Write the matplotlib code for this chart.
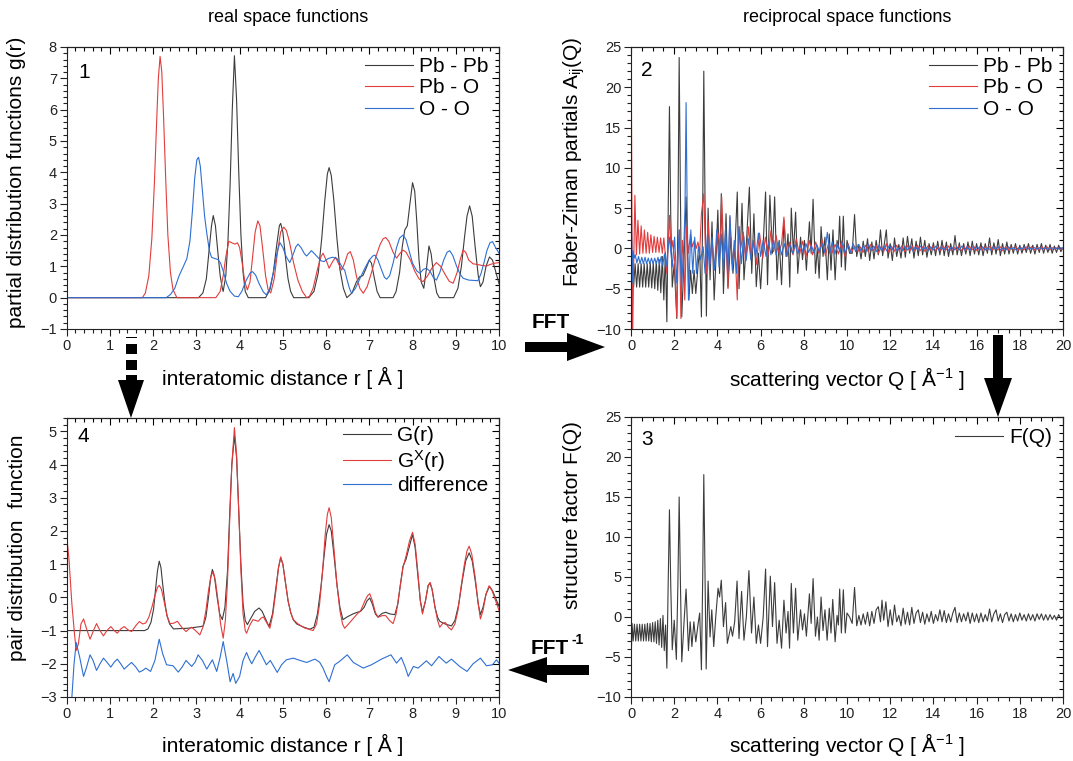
import matplotlib
matplotlib.use("Agg")
import matplotlib.pyplot as plt
from matplotlib.patches import Polygon
from matplotlib.ticker import MultipleLocator

plt.rcParams['font.family'] = ['Liberation Sans', 'DejaVu Sans']
plt.rcParams['mathtext.fontset'] = 'custom'
plt.rcParams['mathtext.rm'] = 'Liberation Sans'
plt.rcParams['mathtext.it'] = 'Liberation Sans:italic'
plt.rcParams['mathtext.bf'] = 'Liberation Sans:bold'

W, H = 1073, 761

# ---------------- panel 1 : partial g(r) ----------------
r_pbpb = [0, 3.05, 3.15, 3.23, 3.3, 3.35, 3.39, 3.44, 3.5, 3.55, 3.6, 3.62, 3.68, 3.73, 3.78, 3.83, 3.88,
          3.93, 3.98, 4.03, 4.08, 4.13, 4.2, 4.6, 4.7, 4.78, 4.86, 4.92, 4.95, 5.0, 5.06, 5.12, 5.18, 5.25,
          5.6, 5.72, 5.82, 5.9, 5.97, 6.03, 6.07, 6.12, 6.18, 6.25, 6.32, 6.4, 6.48, 6.6, 6.7, 6.78, 6.85,
          6.93, 7.0, 7.05, 7.12, 7.18, 7.25, 7.55, 7.62, 7.7, 7.76, 7.82, 7.88, 7.94, 8.0, 8.05, 8.1, 8.15,
          8.2, 8.26, 8.32, 8.38, 8.43, 8.5, 8.56, 8.62, 8.95, 9.05, 9.13, 9.2, 9.26, 9.32, 9.38, 9.45, 9.52,
          9.57, 9.63, 9.7, 9.78, 9.85, 9.93, 10]
g_pbpb = [0, 0, 0.15, 0.6, 1.6, 2.3, 2.62, 2.3, 1.4, 0.7, 0.3, 0.2, 0.7, 1.8, 3.6, 6.0, 7.72,
          6.3, 4.0, 2.0, 0.8, 0.2, 0, 0, 0.25, 0.8, 1.7, 2.3, 2.37, 2.1, 1.3, 0.6, 0.2, 0,
          0, 0.2, 0.8, 1.9, 3.1, 3.95, 4.15, 3.9, 3.1, 1.9, 0.9, 0.3, 0, 0.15, 0.5, 0.67, 0.7,
          0.95, 1.2, 1.1, 0.6, 0.2, 0, 0, 0.2, 0.8, 1.6, 2.16, 2.3, 3.0, 3.67, 3.4, 2.4, 1.2,
          0.5, 0.3, 0.9, 1.65, 1.4, 0.6, 0.15, 0, 0, 0.3, 1.0, 1.9, 2.6, 2.93, 2.6, 1.6, 0.7,
          0.35, 0.5, 1.0, 1.3, 1.2, 0.8, 0.45]

r_pbo = [0, 1.75, 1.82, 1.9, 1.97, 2.03, 2.08, 2.12, 2.16, 2.2, 2.24, 2.29, 2.34, 2.4, 2.46, 2.55, 3.45,
         3.55, 3.62, 3.68, 3.75, 3.82, 3.89, 3.95, 4.0, 4.06, 4.12, 4.18, 4.24, 4.3, 4.36, 4.42, 4.47, 4.53,
         4.6, 4.66, 4.72, 4.8, 4.88, 4.95, 5.02, 5.08, 5.15, 5.25, 5.35, 5.45, 5.55, 5.62, 5.7, 5.8, 5.88,
         5.93, 6.0, 6.07, 6.15, 6.22, 6.3, 6.36, 6.43, 6.5, 6.56, 6.63, 6.7, 6.78, 6.86, 6.95, 7.05, 7.15,
         7.25, 7.32, 7.38, 7.45, 7.55, 7.63, 7.7, 7.78, 7.85, 7.95, 8.05, 8.15, 8.24, 8.35, 8.45, 8.55,
         8.65, 8.75, 8.85, 8.94, 9.03, 9.1, 9.17, 9.23, 9.3, 9.4, 9.5, 9.6, 9.71, 9.8, 9.9, 10]
g_pbo = [0, 0, 0.15, 0.7, 1.9, 3.7, 5.6, 7.0, 7.7, 7.2, 5.8, 3.8, 2.0, 0.8, 0.25, 0, 0,
         0.2, 0.7, 1.3, 1.8, 1.75, 1.71, 1.75, 1.6, 1.1, 0.5, 0.25, 0.5, 1.3, 2.1, 2.45, 2.3, 1.6,
         0.7, 0.25, 0.15, 0.6, 1.5, 2.1, 2.25, 2.15, 1.8, 1.1, 0.55, 0.2, 0.0, 0.05, 0.3, 0.9, 1.3,
         1.42, 1.2, 0.94, 1.15, 1.29, 1.05, 0.88, 1.1, 1.4, 1.47, 1.2, 0.7, 0.3, 0.14, 0.35, 0.8, 1.3,
         1.7, 1.88, 1.92, 1.8, 1.45, 1.26, 1.4, 1.52, 1.45, 1.2, 0.85, 0.6, 0.51, 0.7, 0.95, 1.12,
         1.0, 0.75, 0.52, 0.46, 0.8, 1.2, 1.52, 1.45, 1.2, 1.08, 1.06, 1.03, 1.01, 1.06, 1.1, 1.12]

r_oo = [0, 2.3, 2.4, 2.5, 2.6, 2.7, 2.78, 2.85, 2.91, 2.96, 3.01, 3.05, 3.09, 3.14, 3.19, 3.24, 3.3, 3.35,
        3.42, 3.5, 3.56, 3.62, 3.7, 3.78, 3.88, 3.97, 4.05, 4.15, 4.25, 4.3, 4.37, 4.45, 4.55, 4.62, 4.7,
        4.78, 4.86, 4.93, 5.0, 5.08, 5.16, 5.23, 5.3, 5.35, 5.42, 5.5, 5.55, 5.61, 5.66, 5.72, 5.8, 5.88,
        5.95, 6.05, 6.15, 6.25, 6.32, 6.38, 6.43, 6.48, 6.54, 6.59, 6.68, 6.78, 6.9, 7.0, 7.08, 7.13, 7.2,
        7.28, 7.35, 7.4, 7.47, 7.55, 7.63, 7.7, 7.78, 7.85, 7.92, 8.0, 8.1, 8.17, 8.25, 8.32, 8.4, 8.48,
        8.55, 8.63, 8.72, 8.8, 8.86, 8.93, 9.02, 9.1, 9.17, 9.3, 9.42, 9.51, 9.58, 9.65, 9.72, 9.79, 9.85,
        9.92, 10]
g_oo = [0, 0, 0.1, 0.3, 0.7, 1.0, 1.25, 1.8, 2.8, 3.8, 4.4, 4.48, 4.2, 3.4, 2.6, 2.06, 1.5, 1.29,
        1.25, 1.22, 1.1, 0.85, 0.45, 0.2, 0.05, 0.03, 0.2, 0.55, 0.8, 0.83, 0.72, 0.45, 0.18, 0.09, 0.3,
        0.8, 1.4, 1.76, 1.6, 1.3, 1.12, 1.35, 1.62, 1.71, 1.6, 1.4, 1.33, 1.42, 1.5, 1.42, 1.3, 1.18,
        1.15, 1.25, 1.29, 1.25, 1.1, 0.95, 0.88, 0.6, 0.3, 0.14, 0.3, 0.6, 0.95, 1.2, 1.33, 1.36, 1.2,
        0.9, 0.65, 0.59, 0.7, 1.1, 1.6, 1.9, 2.0, 1.85, 1.5, 1.1, 0.85, 0.78, 0.9, 0.94, 0.85, 0.65,
        0.56, 0.8, 1.2, 1.45, 1.5, 1.35, 1.0, 0.75, 0.62, 0.56, 0.55, 0.54, 0.75, 1.1, 1.5, 1.75, 1.79,
        1.6, 1.42]

# ---------------- panel 2 : Faber-Ziman partials ----------------
q_pbpb = [0.03, 0.05, 0.12, 0.19, 0.26, 0.33, 0.40, 0.47, 0.54, 0.61, 0.68, 0.75, 0.82, 0.89, 0.96, 1.03,
          1.10, 1.17, 1.24, 1.31, 1.38, 1.45, 1.52, 1.59, 1.66, 1.72, 1.78, 1.84, 1.91, 2.0, 2.12, 2.18,
          2.23, 2.29, 2.35, 2.46, 2.55, 2.68, 2.76, 2.84, 2.92, 3.0, 3.1, 3.18, 3.26, 3.32, 3.37, 3.43,
          3.49, 3.57, 3.66, 3.75, 3.85, 3.94, 4.02, 4.1, 4.18, 4.28, 4.4, 4.49, 4.62, 4.72, 4.82, 4.92,
          5.0, 5.14, 5.23, 5.35, 5.48, 5.59, 5.69, 5.8, 5.9, 6.0, 6.12, 6.23, 6.32, 6.43, 6.55, 6.65,
          6.76, 6.86, 6.97, 7.08, 7.18, 7.27, 7.35, 7.42, 7.52, 7.62, 7.72, 7.85, 7.94, 8.03, 8.12, 8.26,
          8.34, 8.43, 8.54, 8.63, 8.71, 8.8, 8.89, 8.98, 9.09, 9.18, 9.26, 9.35, 9.45, 9.54, 9.6, 9.66,
          9.74, 9.83, 9.92, 10.0, 10.12, 10.24, 10.35, 10.45,
          10.55, 10.65, 10.75, 10.85, 10.95, 11.05, 11.15, 11.25, 11.35, 11.45, 11.55, 11.65, 11.75, 11.82,
          11.9, 12.0, 12.1, 12.2, 12.3, 12.4, 12.5, 12.6, 12.7, 12.8, 12.9, 13.0, 13.1, 13.2, 13.3, 13.4,
          13.5, 13.6, 13.7, 13.8, 13.9, 14.0, 14.1, 14.2, 14.3, 14.4, 14.5, 14.6, 14.7, 14.8, 14.9, 15.0,
          15.1, 15.2, 15.3, 15.4, 15.5, 15.6, 15.7, 15.8, 15.9, 16.0, 16.1, 16.2, 16.3, 16.4, 16.5, 16.6,
          16.7, 16.8, 16.9, 17.0, 17.1, 17.2, 17.3, 17.4, 17.5, 17.6, 17.7, 17.8, 17.9, 18.0, 18.1, 18.2,
          18.3, 18.4, 18.5, 18.6, 18.7, 18.8, 18.9, 19.0, 19.1, 19.2, 19.3, 19.4, 19.5, 19.6, 19.7, 19.8,
          19.9, 20.0]
a_pbpb = [-4.5, -1.5, -4.8, -1.9, -4.8, -1.9, -4.8, -1.9, -4.8, -1.9, -4.8, -1.9, -4.8, -1.8, -4.9, -1.8,
          -5.0, -1.6, -5.2, -1.4, -5.5, -1.0, -6.4, -0.5, -9.1, 4.0, 17.6, 4.0, -4.8, -1.9, -8.7, 6.0,
          23.7, 6.0, -8.5, -1.0, 6.4, -6.4, -2.7, -5.6, -2.7, -5.6, -2.3, 0.0, -8.5, 5.0, 22.0, 5.0,
          -8.4, 5.0, -3.9, 3.3, -6.4, -1.0, 4.75, -3.1, 6.8, -5.6, 4.3, -4.8, 1.4, -3.1, 0.5, 7.0,
          -5.0, 5.6, -3.9, 1.0, 7.6, -3.1, 4.3, -4.75, -0.6, -5.0, 0.5, 7.0, -4.5, 6.6, -0.6, 6.4,
          -3.9, 1.0, -4.5, 3.5, -1.0, 1.8, -4.8, 5.0, -0.6, 4.5, -3.1, 1.4, -1.4, 1.0, -2.7, 3.3,
          -0.6, 6.1, -3.1, 0.2, -3.7, 2.7, -1.0, 1.4, -3.9, 1.8, -2.7, 2.3, -3.9, 1.0, 0.0, 4.0,
          -2.3, 4.0, -2.7, 1.0, -0.6, -0.6, 4.2, -1.0,
          0.5, -1.3, 0.9, -1.0, 1.2, -1.5, 0.8, -1.3, 1.0, -0.8, 2.3, -0.9, 1.0, 2.3,
          -1.2, 0.6, -1.5, 1.3, -1.0, 0.5, -1.2, 1.3, -1.1, 1.5, -0.6, 1.2, -1.2, 0.9, -0.9, 1.4,
          -0.8, 1.0, -1.1, 0.6, -0.8, 0.7, -0.9, 0.9, -0.8, 1.0, -0.9, 0.8, -1.0, 0.6, -0.8, 1.6,
          -0.8, 0.7, -0.9, 0.6, -0.7, 0.8, -0.9, 0.9, -0.7, 0.6, -0.8, 0.7, -0.9, 0.6, -0.6, 1.3,
          -0.8, 0.7, -0.7, 1.1, -0.9, 0.6, -0.7, 0.8, -0.7, 0.5, -0.6, 0.6, -0.7, 0.4, -0.6, 0.5,
          -0.5, 0.6, -0.6, 0.4, -0.7, 0.5, -0.5, 0.6, -0.6, 0.4, -0.5, 0.5, -0.6, 0.3, -0.5, 0.4,
          -0.4, 0.1]

q_pbo = [0.0, 0.07, 0.13, 0.18, 0.25, 0.32, 0.40, 0.47, 0.55, 0.62, 0.70, 0.77, 0.85, 0.92, 1.00, 1.07,
         1.15, 1.22, 1.30, 1.37, 1.45, 1.52, 1.59, 1.66, 1.72, 1.78, 1.86, 1.94, 2.02, 2.12, 2.18, 2.24,
         2.31, 2.38, 2.44, 2.49, 2.57, 2.66, 2.75, 2.84, 2.93, 3.02, 3.1, 3.18, 3.26, 3.37, 3.48, 3.57,
         3.66, 3.75, 3.85, 3.95, 4.05, 4.12, 4.2, 4.3, 4.4, 4.49, 4.58, 4.68, 4.8, 4.92, 5.0, 5.08,
         5.2, 5.3, 5.45, 5.55, 5.7, 5.8, 5.95, 6.1, 6.22, 6.35, 6.48, 6.6, 6.72, 6.85, 6.97, 7.08,
         7.2, 7.35, 7.5, 7.65, 7.8, 7.95, 8.1, 8.25, 8.4, 8.55, 8.7, 8.85, 9.0, 9.15, 9.3, 9.45,
         9.6, 9.75, 9.9, 10.05, 10.2, 10.35, 10.5, 10.62, 10.74, 10.86, 10.98, 11.1, 11.22, 11.34, 11.46,
         11.58, 11.7, 11.82, 11.94, 12.06, 12.18, 12.3, 12.42, 12.54, 12.66, 12.78, 12.9, 13.02, 13.14,
         13.26, 13.38, 13.5, 13.62, 13.74, 13.86, 13.98, 14.1, 14.22, 14.34, 14.46, 14.58, 14.7, 14.82,
         14.94, 15.06, 15.18, 15.3, 15.42, 15.54, 15.66, 15.78, 15.9, 16.02, 16.14, 16.26, 16.38, 16.5,
         16.62, 16.74, 16.86, 16.98, 17.1, 17.22, 17.34, 17.46, 17.58, 17.7, 17.82, 17.94, 18.06, 18.18,
         18.3, 18.42, 18.54, 18.66, 18.78, 18.9, 19.02, 19.14, 19.26, 19.38, 19.5, 19.62, 19.74, 19.86, 20.0]
a_pbo = [30.0, -12.0, -1.0, 6.6, -0.8, 3.5, -0.7, 2.8, -0.6, 2.3, -0.6, 2.0, -0.6, 1.7, -0.5, 1.5,
         -0.5, 1.4, -0.5, 1.3, -0.6, 1.3, -0.8, -3.1, 0.5, 4.1, -0.5, 1.0, -1.5, -8.5, -1.0, 2.3,
         -8.7, 1.0, -1.0, -6.4, 2.7, -0.6, 1.8, 0.2, 1.0, 0.0, 0.8, -0.5, 4.3, 6.8, -3.1, 3.5,
         -1.9, 1.0, -2.7, 0.2, 1.9, -0.5, 6.4, -1.0, 0.6, -5.0, 3.9, -1.9, 0.6, -6.4, 2.7, 0.0,
         2.0, -1.5, 2.7, -1.0, 0.8, -2.0, 1.9, -1.2, 1.4, -0.8, 2.2, -0.4, 1.6, -0.6, 0.6, 3.9,
         -1.0, 0.8, -0.8, 1.2, -0.8, 0.9, -1.1, 1.0, -0.8, 0.8, -0.6, 1.1, -0.9, 0.7, -0.6, 0.5,
         -0.7, 0.9, -1.0, 0.6, -0.6, 0.3, -0.4, 0.2, -0.5, 0.4, -0.4, 0.5, -0.3, 0.4, -0.6,
         0.3, -0.4, 0.6, -0.5, 0.3, -0.4, 0.4, -0.3, 0.3, -0.4, 0.4, -0.3, 0.3, -0.3,
         0.4, -0.3, 0.2, -0.4, 0.3, -0.2, 0.3, -0.3, 0.2, -0.3, 0.3, -0.2, 0.3, -0.3,
         0.2, -0.2, 0.3, -0.3, 0.2, -0.2, 0.3, -0.2, 0.2, -0.3, 0.2, -0.2, 0.2, -0.2,
         0.3, -0.2, 0.2, -0.2, 0.2, -0.3, 0.2, -0.2, 0.2, -0.2, 0.2, -0.2, 0.1, -0.2,
         0.2, -0.1, 0.2, -0.2, 0.1, -0.2, 0.2, -0.1, 0.2, -0.2, 0.1, -0.1, 0.1, -0.1, 0.0]

q_oo = [0.0, 0.03, 0.06, 0.1, 0.15, 0.2, 0.27, 0.35, 0.42, 0.5, 0.57, 0.65, 0.72, 0.8, 0.87, 0.95, 1.02,
        1.1, 1.17, 1.25, 1.32, 1.4, 1.47, 1.55, 1.62, 1.7, 1.78, 1.91, 2.02, 2.12, 2.23, 2.34, 2.45, 2.5,
        2.55, 2.6, 2.66, 2.77, 2.86, 2.95, 3.03, 3.12, 3.22, 3.34, 3.43, 3.54, 3.63, 3.75, 3.86, 3.97,
        4.08, 4.18, 4.28, 4.38, 4.48, 4.58, 4.69, 4.78, 4.89, 5.0, 5.11, 5.22, 5.33, 5.44, 5.55, 5.66,
        5.77, 5.9, 6.0, 6.12, 6.25, 6.37, 6.48, 6.6, 6.72, 6.85, 6.97, 7.1, 7.22, 7.35, 7.48, 7.6, 7.72,
        7.85, 7.97, 8.1, 8.22, 8.35, 8.47, 8.6, 8.72, 8.85, 8.97, 9.09, 9.2, 9.32, 9.44, 9.56, 9.68,
        9.8, 9.92, 10.04, 10.16, 10.28, 10.4, 10.52, 10.64, 10.76, 10.88, 11.0, 11.12, 11.24, 11.36,
        11.48, 11.6, 11.72, 11.84, 11.96, 12.08, 12.2, 12.32, 12.44, 12.56, 12.68, 12.8, 12.92, 13.04,
        13.16, 13.28, 13.4, 13.52, 13.64, 13.76, 13.88, 14.0, 14.12, 14.24, 14.36, 14.48, 14.6, 14.72,
        14.84, 14.96, 15.08, 15.2, 15.32, 15.44, 15.56, 15.68, 15.8, 15.92, 16.04, 16.16, 16.28, 16.4,
        16.52, 16.64, 16.76, 16.88, 17.0, 17.12, 17.24, 17.36, 17.48, 17.6, 17.72, 17.84, 17.96, 18.08,
        18.2, 18.32, 18.44, 18.56, 18.68, 18.8, 18.92, 19.04, 19.16, 19.28, 19.4, 19.52, 19.64, 19.76,
        19.88, 20.0]
a_oo = [10.0, 2.0, -4.3, -0.3, -1.2, -0.8, -1.8, -1.0, -1.9, -1.1, -1.9, -1.1, -1.9, -1.2, -1.9, -1.2,
        -1.9, -1.2, -1.9, -1.1, -2.0, -1.0, -2.1, -0.7, -2.3, -0.5, 1.4, -2.3, 1.4, -4.3, 2.3, -4.75,
        0.5, 5.0, 18.1, 5.0, -6.4, 2.3, -3.1, 1.4, -3.1, 0.2, -1.4, 0.2, -3.1, 1.8, -2.7, 1.4,
        -2.7, 2.3, -2.3, 1.8, -2.7, 2.7, -3.1, 4.1, -2.7, 1.0, -3.1, 2.7, -1.9, 1.5, -1.5, 1.2,
        -1.4, 1.0, -1.2, 1.9, -1.0, 1.0, -1.0, 0.8, -0.8, 1.0, -0.8, 0.8, -0.8, 0.6, -1.0, 0.5,
        -0.6, 0.5, -0.7, 0.4, -0.5, 0.6, -0.5, 0.4, -0.6, 0.5, -0.4, 0.6, -0.5, 2.0, -0.6, 0.8,
        -0.7, 0.6, -0.5, 0.7, -0.6, 0.5, -0.5, 0.6, -0.4, 0.5, -0.3, 0.4, -0.4, 0.5, -0.3, 0.3,
        -0.4, 0.4, -0.3, 0.3, -0.3, 0.4, -0.2, 0.3, -0.3, 0.2, -0.3, 0.3, -0.2, 0.3, -0.3, 0.2,
        -0.2, 0.3, -0.2, 0.2, -0.3, 0.2, -0.2, 0.3, -0.2, 0.2, -0.2, 0.2, -0.3, 0.2, -0.2, 0.2,
        -0.2, 0.3, -0.2, 0.2, -0.2, 0.2, -0.1, 0.2, -0.2, 0.2, -0.2, 0.1, -0.2, 0.2, -0.1, 0.2,
        -0.2, 0.1, -0.2, 0.2, -0.1, 0.1, -0.2, 0.1, -0.1, 0.2, -0.1, 0.1, -0.1, 0.1, -0.1, 0.1,
        -0.1, 0.1, -0.1, 0.1, -0.1, 0.1, -0.1, 0.1, 0.0]

# ---------------- panel 3 : F(Q) ----------------
q_f = [0.0, 0.02, 0.05, 0.1, 0.16, 0.22, 0.28, 0.34, 0.40, 0.46, 0.52, 0.58, 0.64, 0.70, 0.76, 0.82,
       0.88, 0.94, 1.00, 1.06, 1.12, 1.18, 1.24, 1.30, 1.36, 1.42, 1.48, 1.54, 1.60, 1.66, 1.72, 1.78,
       1.84, 1.91, 2.0, 2.1, 2.17, 2.23, 2.29, 2.35, 2.46, 2.55, 2.66, 2.74, 2.82, 2.91, 3.0, 3.11,
       3.18, 3.26, 3.32, 3.37, 3.43, 3.48, 3.57, 3.66, 3.74, 3.83, 3.92, 4.03, 4.1, 4.18, 4.28, 4.38,
       4.46, 4.62, 4.7, 4.8, 4.91, 5.0, 5.12, 5.23, 5.34, 5.46, 5.58, 5.69, 5.8, 5.9, 6.0, 6.12,
       6.23, 6.32, 6.45, 6.55, 6.65, 6.76, 6.86, 6.97, 7.08, 7.18, 7.27, 7.34, 7.42, 7.52, 7.62, 7.72,
       7.85, 7.94, 8.03, 8.12, 8.26, 8.34, 8.43, 8.54, 8.63, 8.71, 8.8, 8.89, 8.98, 9.08, 9.18, 9.26,
       9.34, 9.45, 9.54, 9.6, 9.66, 9.74, 9.83, 9.92, 10.0, 10.12, 10.24, 10.35, 10.45,
       10.55, 10.65, 10.75, 10.85, 10.95, 11.05, 11.15, 11.25, 11.35, 11.45, 11.55, 11.62, 11.7, 11.8,
       11.9, 12.0, 12.1, 12.2, 12.3, 12.4, 12.5, 12.6, 12.7, 12.8, 12.9, 13.0, 13.1, 13.2, 13.3, 13.4,
       13.5, 13.6, 13.7, 13.8, 13.9, 14.0, 14.1, 14.2, 14.3, 14.4, 14.5, 14.6, 14.7, 14.8, 14.9, 15.0,
       15.1, 15.2, 15.3, 15.4, 15.5, 15.6, 15.7, 15.8, 15.9, 16.0, 16.1, 16.2, 16.3, 16.4, 16.5, 16.6,
       16.7, 16.8, 16.9, 17.0, 17.1, 17.2, 17.3, 17.4, 17.5, 17.6, 17.7, 17.8, 17.9, 18.0, 18.1, 18.2,
       18.3, 18.4, 18.5, 18.6, 18.7, 18.8, 18.9, 19.0, 19.1, 19.2, 19.3, 19.4, 19.5, 19.6, 19.7, 19.8,
       19.9, 20.0]
f_q = [5.0, -4.0, -0.8, -3.0, -0.9, -3.0, -0.9, -3.0, -0.9, -3.0, -0.9, -3.0, -0.9, -3.0, -0.8, -3.0,
       -0.8, -3.1, -0.7, -3.1, -0.6, -3.3, -0.4, -3.5, -0.2, -3.8, 0.2, -4.2, -1.0, -6.4, 4.0, 13.4,
       4.0, -4.1, -0.4, -5.3, 4.0, 15.0, 4.0, -5.6, -0.4, 3.5, -4.2, -0.6, -3.7, -0.6, -3.1, -0.8,
       0.5, -6.6, 5.0, 17.8, 5.0, -6.5, 4.5, -2.5, 0.9, -3.7, -0.1, 3.6, 2.5, 4.6, -1.2, 1.8,
       -3.3, -1.2, -2.4, -0.6, 4.5, -2.7, 3.2, -2.9, 0.0, 5.8, -2.0, 2.5, -3.3, -1.0, -3.3, 0.0,
       6.0, -3.7, 5.1, -1.2, 4.3, -3.3, -0.4, -3.9, 2.1, -2.0, 0.7, -3.9, 4.2, -2.0, 3.6, -2.9,
       0.9, -1.6, 0.4, -2.4, 2.9, -0.8, 4.8, -2.4, 0.0, -2.9, 2.5, -1.7, 0.9, -2.9, 1.1, -2.0,
       2.2, -3.1, 0.2, -1.0, 3.5, -2.0, 3.4, -2.0, 0.5, 0.0, -0.8, 3.7, -1.1,
       0.2, -1.0, 0.4, -0.9, 0.6, -1.1, 0.7, -0.8, 0.9, 1.3, -0.6, 2.1, -0.4, 1.9,
       -1.2, 0.9, -1.0, 1.5, -0.6, 0.2, -1.1, 1.1, -0.9, 0.6, -1.0, 1.2, -0.8, 0.5, 0.9, -0.7,
       0.6, -0.9, 0.4, -0.6, 0.7, -0.8, 0.3, -0.5, 0.9, -0.6, 0.8, -0.7, 0.4, -0.6, 0.5, 1.2,
       -0.7, 0.5, -0.6, 0.4, -0.5, 0.6, -0.8, 0.5, -0.6, 0.4, -0.7, 0.5, -0.6, 0.3, -0.5, 1.0,
       -0.6, 0.4, 0.9, -0.5, 0.4, -0.7, 0.3, 0.6, -0.5, 0.4, -0.6, 0.3, -0.5, 0.5, -0.4, 0.3,
       -0.5, 0.4, -0.4, 0.3, -0.5, 0.4, -0.3, 0.4, -0.4, 0.3, -0.4, 0.3, -0.3, 0.2, -0.4, 0.3,
       -0.2, 0.0]

# ---------------- panel 4 : G(r) ----------------
r_g = [0, 1.8, 1.88, 1.95, 2.01, 2.06, 2.1, 2.14, 2.18, 2.22, 2.27, 2.32, 2.38, 2.47, 2.8, 3.1, 3.16,
       3.22, 3.28, 3.33, 3.37, 3.42, 3.48, 3.54, 3.6, 3.66, 3.72, 3.77, 3.82, 3.88, 3.93, 3.98, 4.03,
       4.08, 4.13, 4.18, 4.25, 4.35, 4.45, 4.52, 4.6, 4.68, 4.76, 4.83, 4.9, 4.95, 5.0, 5.06, 5.12, 5.18,
       5.24, 5.32, 5.45, 5.62, 5.72, 5.8, 5.88, 5.95, 6.01, 6.07, 6.12, 6.18, 6.25, 6.32, 6.39, 6.5,
       6.62, 6.72, 6.8, 6.88, 6.95, 7.01, 7.07, 7.14, 7.2, 7.3, 7.38, 7.48, 7.59, 7.66, 7.72, 7.78, 7.85,
       7.92, 8.0, 8.06, 8.12, 8.18, 8.23, 8.3, 8.36, 8.4, 8.45, 8.52, 8.58, 8.63, 8.75, 8.9, 8.98, 9.07,
       9.15, 9.23, 9.31, 9.38, 9.45, 9.52, 9.57, 9.63, 9.7, 9.78, 9.85, 9.93, 10]
g_r = [-1, -1, -0.95, -0.75, -0.35, 0.3, 0.8, 1.09, 0.9, 0.4, -0.15, -0.55, -0.8, -0.95, -0.93, -0.88, -0.86,
       -0.6, 0.0, 0.6, 0.84, 0.6, 0.0, -0.5, -0.67, -0.3, 0.8, 2.5, 4.0, 4.86, 4.2, 2.6, 1.0,
       -0.2, -0.7, -0.82, -0.65, -0.42, -0.32, -0.42, -0.65, -0.88, -0.5, 0.2, 0.9, 1.19, 1.0, 0.45, -0.1, -0.45,
       -0.67, -0.8, -0.88, -0.96, -0.9, -0.5, 0.3, 1.2, 1.9, 2.19, 2.0, 1.3, 0.4, -0.3, -0.67, -0.58,
       -0.5, -0.45, -0.42, -0.3, -0.1, -0.02, -0.2, -0.5, -0.59, -0.48, -0.45, -0.5, -0.52, -0.2, 0.4, 0.94, 1.15,
       1.5, 1.89, 1.5, 0.7, -0.1, -0.45, -0.1, 0.35, 0.43, 0.25, -0.3, -0.6, -0.72, -0.8, -0.86, -0.7, -0.2,
       0.5, 1.1, 1.34, 1.1, 0.5, -0.2, -0.52, -0.3, 0.1, 0.33, 0.2, -0.05, -0.27]

r_gx = [0, 0.05, 0.12, 0.18, 0.22, 0.27, 0.33, 0.39, 0.46, 0.54, 0.62, 0.69, 0.77, 0.85, 0.93, 1.02, 1.1,
        1.17, 1.25, 1.33, 1.42, 1.5, 1.6, 1.68, 1.76, 1.83, 1.9, 1.97, 2.04, 2.1, 2.14, 2.19, 2.25, 2.32,
        2.39, 2.47, 2.56, 2.66, 2.76, 2.83, 2.89, 2.98, 3.08, 3.15, 3.22, 3.28, 3.34, 3.39, 3.44, 3.5,
        3.56, 3.62, 3.67, 3.72, 3.77, 3.82, 3.88, 3.93, 3.98, 4.03, 4.08, 4.13, 4.16, 4.23, 4.31, 4.38,
        4.43, 4.5, 4.55, 4.62, 4.7, 4.77, 4.84, 4.9, 4.95, 5.0, 5.06, 5.12, 5.18, 5.24, 5.35, 5.5, 5.7,
        5.78, 5.85, 5.92, 5.98, 6.03, 6.07, 6.12, 6.18, 6.25, 6.32, 6.38, 6.43, 6.52, 6.62, 6.72, 6.8,
        6.9, 6.96, 7.01, 7.07, 7.14, 7.2, 7.3, 7.38, 7.47, 7.55, 7.62, 7.7, 7.78, 7.86, 7.93, 8.0, 8.06,
        8.12, 8.18, 8.23, 8.3, 8.36, 8.41, 8.46, 8.52, 8.58, 8.63, 8.7, 8.76, 8.83, 8.9, 8.98, 9.05, 9.12,
        9.2, 9.26, 9.31, 9.37, 9.45, 9.52, 9.57, 9.63, 9.7, 9.77, 9.84, 9.92, 10]
g_x = [1.84, 1.2, -0.2, -1.1, -1.6, -1.4, -0.8, -0.65, -0.95, -1.26, -1.0, -0.79, -1.0, -1.16, -1.0, -0.88, -1.0,
       -1.08, -0.95, -0.88, -0.98, -1.03, -0.85, -0.73, -0.8, -0.77, -0.6, -0.3, 0.05, 0.3, 0.36, 0.25, -0.1, -0.55,
       -0.79, -0.78, -0.72, -0.9, -1.03, -0.95, -0.9, -1.0, -1.13, -0.9, -0.4, 0.2, 0.65, 0.78, 0.5, -0.1,
       -0.8, -1.23, -0.7, 0.5, 2.3, 4.0, 5.11, 4.3, 2.6, 0.8, -0.5, -1.0, -1.08, -0.85, -0.67, -0.7,
       -0.72, -0.62, -0.59, -0.75, -0.93, -0.5, 0.2, 0.9, 1.22, 1.0, 0.45, -0.1, -0.45, -0.67, -0.8, -0.92, -1.0,
       -0.8, -0.2, 0.8, 1.9, 2.5, 2.7, 2.4, 1.5, 0.4, -0.4, -0.8, -0.93, -0.8, -0.65, -0.5, -0.4,
       -0.1, 0.05, 0.11, -0.1, -0.45, -0.6, -0.55, -0.55, -0.7, -0.79, -0.5, 0.2, 0.9, 1.3, 1.7, 1.96, 1.6,
       0.8, -0.1, -0.5, -0.1, 0.35, 0.45, 0.2, -0.3, -0.7, -0.9, -0.78, -0.76, -0.9, -0.98, -0.8, -0.4, 0.3,
       1.0, 1.4, 1.54, 1.3, 0.6, -0.2, -0.65, -0.4, 0.1, 0.35, 0.2, -0.1, -0.39]

r_d = [0.12, 0.17, 0.22, 0.3, 0.39, 0.46, 0.54, 0.61, 0.69, 0.77, 0.85, 0.93, 1.02, 1.1, 1.17, 1.25, 1.33,
       1.42, 1.5, 1.6, 1.68, 1.76, 1.83, 1.94, 2.04, 2.14, 2.22, 2.31, 2.46, 2.58, 2.67, 2.76, 2.89, 2.97,
       3.04, 3.14, 3.24, 3.37, 3.47, 3.55, 3.62, 3.7, 3.78, 3.85, 3.91, 4.0, 4.08, 4.16, 4.22, 4.28,
       4.36, 4.45, 4.53, 4.62, 4.71, 4.87, 4.97, 5.08, 5.24, 5.4, 5.55, 5.74, 5.85, 5.93, 6.0, 6.07, 6.13,
       6.2, 6.31, 6.49, 6.63, 6.86, 7.05, 7.28, 7.5, 7.63, 7.74, 7.83, 7.9, 8.02, 8.13, 8.32, 8.44, 8.61,
       8.78, 8.9, 9.09, 9.26, 9.4, 9.57, 9.71, 9.85, 9.94, 10]
d_r = [-3.0, -2.0, -1.36, -1.8, -2.38, -2.1, -1.73, -1.9, -2.2, -2.0, -1.83, -1.95, -2.1, -1.95, -1.86, -2.0, -2.16,
       -2.05, -1.96, -2.1, -2.25, -2.2, -2.13, -2.23, -1.9, -1.26, -1.7, -2.03, -2.06, -2.25, -2.1, -1.9, -2.08, -1.95,
       -1.73, -1.9, -2.16, -1.88, -2.23, -1.8, -1.33, -1.9, -2.54, -2.29, -2.59, -2.38, -1.9, -1.66, -1.85, -2.0,
       -1.8, -1.6, -1.8, -2.03, -1.9, -2.26, -2.03, -1.88, -1.83, -1.9, -1.96, -1.86, -1.95, -2.13, -2.35, -2.54, -2.3,
       -2.03, -1.93, -1.73, -1.96, -2.13, -2.03, -1.86, -1.73, -1.98, -1.81, -2.1, -2.38, -2.08, -2.13, -1.91, -2.06, -1.78,
       -1.98, -1.86, -2.08, -2.23, -2.0, -1.83, -2.06, -2.03, -1.88, -1.98]

C_BLK = '#3c3c3c'
C_RED = '#e23c3c'
C_BLU = '#2e6fd2'
LW = 0.8

fig = plt.figure(figsize=(W / 100, H / 100), dpi=100)


def rect(x0, x1, ytop, ybot):
    return [x0 / W, 1 - ybot / H, (x1 - x0) / W, (ybot - ytop) / H]


def fx(x):
    return x / W


def fy(y):
    return 1 - y / H


def style(ax, xmaj, xmin, ymaj, ymin):
    ax.xaxis.set_major_locator(MultipleLocator(xmaj))
    ax.xaxis.set_minor_locator(MultipleLocator(xmin))
    ax.yaxis.set_major_locator(MultipleLocator(ymaj))
    ax.yaxis.set_minor_locator(MultipleLocator(ymin))
    ax.tick_params(which='both', direction='out', labelsize=10.5, width=0.8, colors='#222222',
                   top=False, right=False, pad=2)
    ax.tick_params(which='major', length=5)
    ax.tick_params(which='minor', length=3)
    sx = ax.secondary_xaxis('top')
    sx.xaxis.set_major_locator(MultipleLocator(xmaj))
    sx.xaxis.set_minor_locator(MultipleLocator(xmin))
    sx.tick_params(which='both', direction='in', labeltop=False, width=0.8)
    sx.tick_params(which='major', length=5)
    sx.tick_params(which='minor', length=3)
    sy = ax.secondary_yaxis('right')
    sy.yaxis.set_major_locator(MultipleLocator(ymaj))
    sy.yaxis.set_minor_locator(MultipleLocator(ymin))
    sy.tick_params(which='both', direction='in', labelright=False, width=0.8)
    sy.tick_params(which='major', length=5)
    sy.tick_params(which='minor', length=3)
    for s in ax.spines.values():
        s.set_linewidth(0.8)
        s.set_color('#222222')
    for s in list(sx.spines.values()) + list(sy.spines.values()):
        s.set_linewidth(0.8)
        s.set_color('#222222')


def legend(ax, x, y):
    ax.legend(loc='upper right', bbox_to_anchor=(x, y), frameon=False, fontsize=15,
              handlelength=2.3, handletextpad=0.3, labelspacing=0.12, borderaxespad=0, borderpad=0)


# panel 1
ax1 = fig.add_axes(rect(66.7, 499, 47, 329))
ax1.plot(r_pbpb, g_pbpb, color=C_BLK, lw=LW, label='Pb - Pb')
ax1.plot(r_pbo, g_pbo, color=C_RED, lw=LW, label='Pb - O')
ax1.plot(r_oo, g_oo, color=C_BLU, lw=LW, label='O - O')
ax1.set_xlim(0, 10)
ax1.set_ylim(-1, 8)
style(ax1, 1, 0.2, 1, 0.2)
legend(ax1, 0.975, 0.965)
ax1.text(0.04, 0.908, '1', transform=ax1.transAxes, fontsize=15, ha='center', va='center')

# panel 2
ax2 = fig.add_axes(rect(631, 1063, 47, 329))
ax2.plot(q_pbpb, a_pbpb, color=C_BLK, lw=LW, label='Pb - Pb')
ax2.plot(q_pbo, a_pbo, color=C_RED, lw=LW, label='Pb - O')
ax2.plot(q_oo, a_oo, color=C_BLU, lw=LW, label='O - O')
ax2.set_xlim(0, 20)
ax2.set_ylim(-10, 25)
style(ax2, 2, 0.5, 5, 1)
legend(ax2, 0.975, 0.965)
ax2.text(0.037, 0.918, '2', transform=ax2.transAxes, fontsize=15, ha='center', va='center')

# panel 3
ax3 = fig.add_axes(rect(631, 1063, 417, 697))
ax3.plot(q_f, f_q, color=C_BLK, lw=LW, label='F(Q)')
ax3.set_xlim(0, 20)
ax3.set_ylim(-10, 25)
style(ax3, 2, 0.5, 5, 1)
legend(ax3, 0.975, 0.96)
ax3.text(0.037, 0.921, '3', transform=ax3.transAxes, fontsize=15, ha='center', va='center')

# panel 4
ax4 = fig.add_axes(rect(66.7, 499, 418, 697))
ax4.plot(r_g, g_r, color=C_BLK, lw=LW, label='G(r)')
ax4.plot(r_gx, g_x, color=C_RED, lw=LW, label='G$^{\\mathrm{X}}$(r)')
ax4.plot(r_d, d_r, color=C_BLU, lw=LW, label='difference')
ax4.set_xlim(0, 10)
ax4.set_ylim(-3, 5.4)
style(ax4, 1, 0.2, 1, 0.2)
legend(ax4, 0.975, 0.97)
ax4.text(0.038, 0.932, '4', transform=ax4.transAxes, fontsize=15, ha='center', va='center')

# titles and labels
fig.text(fx(288), fy(18), 'real space functions', fontsize=13, ha='center', va='center')
fig.text(fx(847), fy(18), 'reciprocal space functions', fontsize=13, ha='center', va='center')
fig.text(fx(283), fy(378), 'interatomic distance r [ Å ]', fontsize=15, ha='center', va='center')
fig.text(fx(847), fy(378), 'scattering vector Q [ Å$^{\\mathrm{-1}}$ ]', fontsize=15, ha='center', va='center')
fig.text(fx(283), fy(745), 'interatomic distance r [ Å ]', fontsize=15, ha='center', va='center')
fig.text(fx(847), fy(745), 'scattering vector Q [ Å$^{\\mathrm{-1}}$ ]', fontsize=15, ha='center', va='center')
fig.text(fx(17), fy(182), 'partial distribution functions g(r)', fontsize=15, rotation=90, ha='center', va='center')
fig.text(fx(18), fy(548), 'pair distribution  function', fontsize=15, rotation=90, ha='center', va='center')
fig.text(fx(574), fy(162), 'Faber-Ziman partials A$_{\\mathrm{ij}}$(Q)', fontsize=15, rotation=90, ha='center', va='center')
fig.text(fx(573), fy(515), 'structure factor F(Q)', fontsize=15, rotation=90, ha='center', va='center')


# arrows (pixel geometry)
def poly(pts):
    fig.add_artist(Polygon([(fx(x), fy(y)) for x, y in pts], closed=True, transform=fig.transFigure,
                           facecolor='black', edgecolor='none'))


def box(x0, y0, x1, y1):
    poly([(x0, y0), (x1, y0), (x1, y1), (x0, y1)])


# FFT arrow
box(525, 342, 569, 352)
poly([(567, 333), (605, 347), (567, 361)])
fig.text(fx(551), fy(322), 'FFT', fontsize=15, fontweight='bold', ha='center', va='center')
# inverse FFT arrow
box(546, 665, 589, 675)
poly([(547, 657), (508, 670), (547, 683)])
fig.text(fx(550), fy(648), 'FFT', fontsize=15, fontweight='bold', ha='center', va='center')
fig.text(fx(578), fy(640), '-1', fontsize=10, fontweight='bold', ha='center', va='center')
# down arrow right
box(993, 335, 1003, 379)
poly([(984, 378), (1012, 378), (998, 417)])
# dashed down arrow left
box(126, 336.5, 137, 338)
box(126, 344, 137, 354)
box(126, 360, 137, 370)
box(126, 375, 137, 381)
poly([(118, 380), (144, 380), (131, 418)])

fig.savefig('out.png', dpi=100)
